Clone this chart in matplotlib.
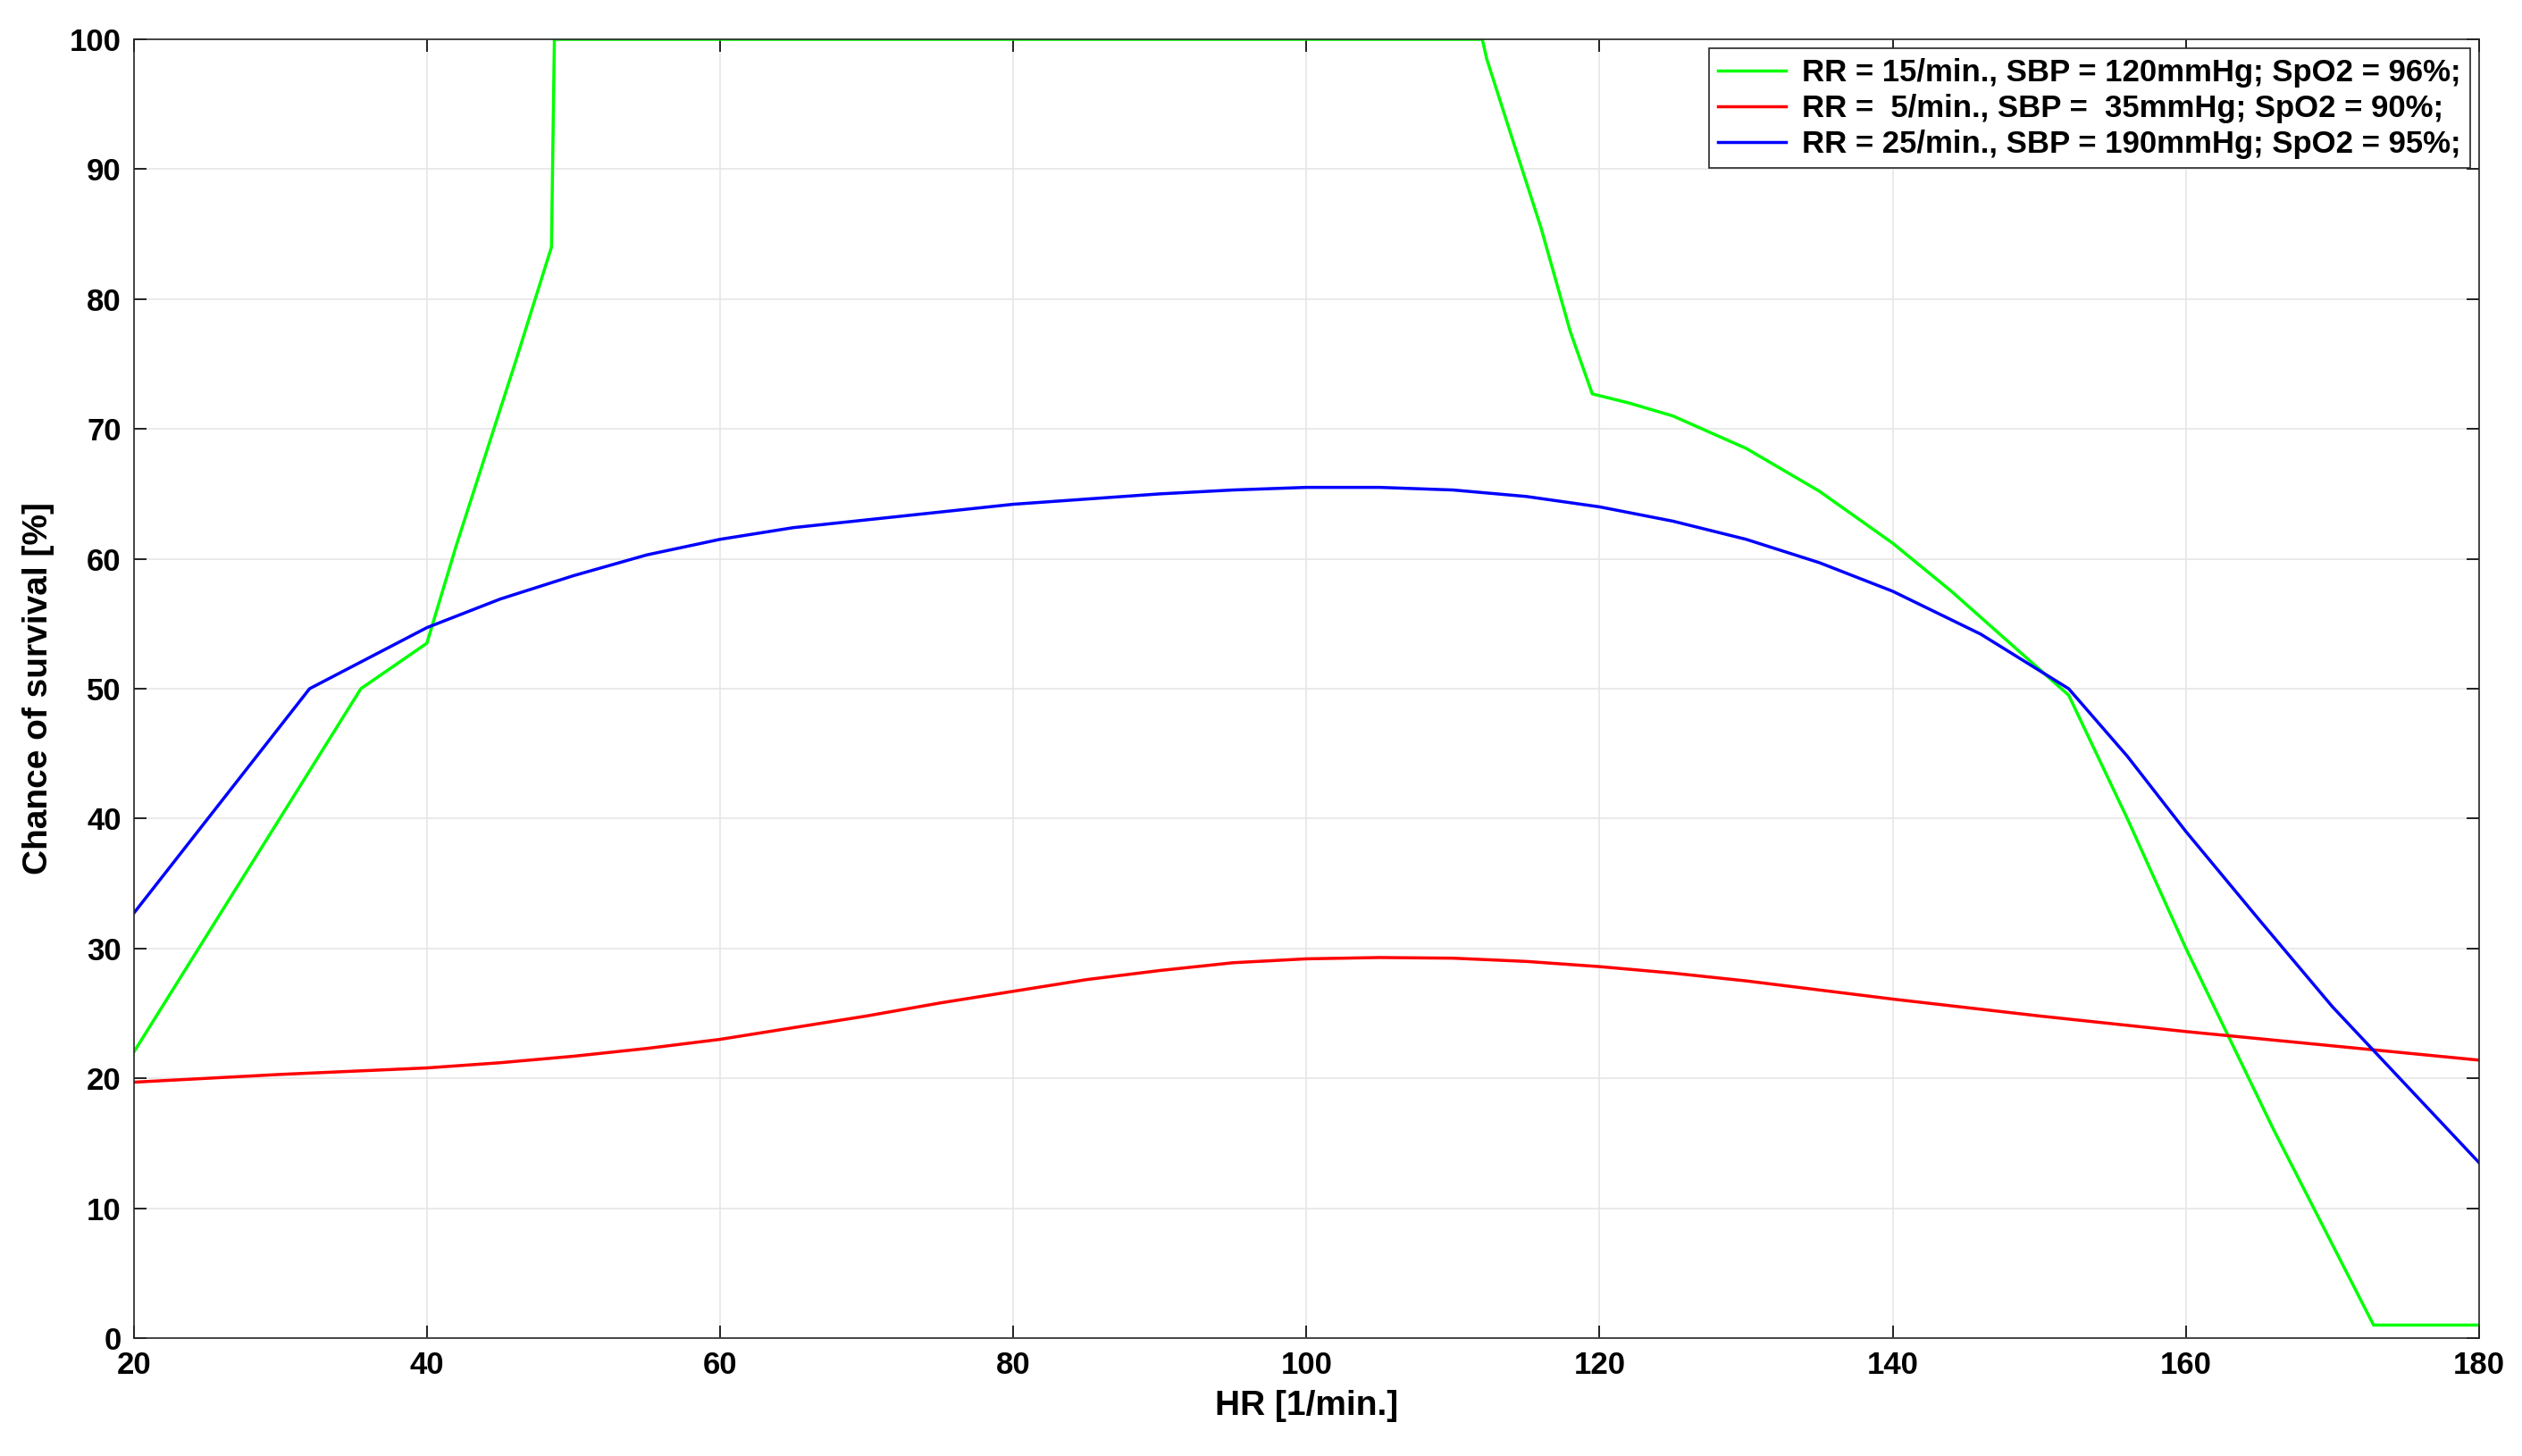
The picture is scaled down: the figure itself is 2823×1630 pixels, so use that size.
import matplotlib
matplotlib.use('Agg')
import matplotlib.pyplot as plt

# green: RR 15, SBP 120, SpO2 96
hr_g = [20, 35.5, 40, 42, 44, 46, 48.5, 48.7, 112, 112.3, 114, 116, 118, 119.5, 122, 125, 128, 130, 135, 140, 144, 148, 152, 156, 160, 166, 172.8, 180]
cs_g = [22, 50, 53.5, 61, 68, 75, 84, 100, 100, 98.5, 92.5, 85.5, 77.5, 72.7, 72, 71, 69.5, 68.5, 65.2, 61.2, 57.5, 53.5, 49.5, 40, 30, 16, 1, 1]

# red: RR 5, SBP 35, SpO2 90
hr_r = [20, 30, 40, 45, 50, 55, 60, 65, 70, 75, 80, 85, 90, 95, 100, 105, 110, 115, 120, 125, 130, 140, 150, 160, 170, 180]
cs_r = [19.7, 20.3, 20.8, 21.2, 21.7, 22.3, 23, 23.9, 24.8, 25.8, 26.7, 27.6, 28.3, 28.9, 29.2, 29.3, 29.25, 29.0, 28.6, 28.1, 27.5, 26.1, 24.8, 23.6, 22.5, 21.4]

# blue: RR 25, SBP 190, SpO2 95
hr_b = [20, 32, 40, 45, 50, 55, 60, 65, 70, 75, 80, 85, 90, 95, 100, 105, 110, 115, 120, 125, 130, 135, 140, 146, 152, 156, 160, 165, 170, 175, 180]
cs_b = [32.7, 50, 54.7, 56.9, 58.7, 60.3, 61.5, 62.4, 63, 63.6, 64.2, 64.6, 65, 65.3, 65.5, 65.5, 65.3, 64.8, 64, 62.9, 61.5, 59.7, 57.5, 54.2, 50, 44.8, 39, 32.2, 25.5, 19.5, 13.5]

labels = ['RR = 15/min., SBP = 120mmHg; SpO2 = 96%;',
          'RR =  5/min., SBP =  35mmHg; SpO2 = 90%;',
          'RR = 25/min., SBP = 190mmHg; SpO2 = 95%;']

plt.rcParams['font.family'] = ['Liberation Sans', 'DejaVu Sans']
plt.rcParams['font.weight'] = 'bold'

fig = plt.figure(figsize=(28.23, 16.30), dpi=100)
ax = fig.add_axes([0.053, 0.081, 0.930, 0.892])

ax.plot(hr_g, cs_g, color='#00ff00', lw=2.5, label=labels[0])
ax.plot(hr_r, cs_r, color='#ff0000', lw=2.5, label=labels[1])
ax.plot(hr_b, cs_b, color='#0000ff', lw=2.5, label=labels[2])

ax.set_xlim(20, 180)
ax.set_ylim(0, 100)
ax.set_xticks(range(20, 181, 20))
ax.set_yticks(range(0, 101, 10))
ax.grid(True, color='#e6e6e6', lw=1.2)
ax.set_axisbelow(True)
ax.tick_params(direction='in', length=10, width=1.2, labelsize=25, top=True, right=True, pad=10)
for s in ax.spines.values():
    s.set_color('#262626')
    s.set_linewidth(1.2)
ax.set_xlabel('HR [1/min.]', fontsize=28, fontweight='bold', labelpad=8)
ax.set_ylabel('Chance of survival [%]', fontsize=28, fontweight='bold', labelpad=12)

leg = ax.legend(loc='upper right', fontsize=25, fancybox=False, framealpha=1,
                edgecolor='#262626', borderaxespad=0.3, handlelength=2.2,
                handletextpad=0.5, labelspacing=0.2, borderpad=0.3)
leg.get_frame().set_linewidth(1.2)

fig.savefig('out.png', dpi=100)
